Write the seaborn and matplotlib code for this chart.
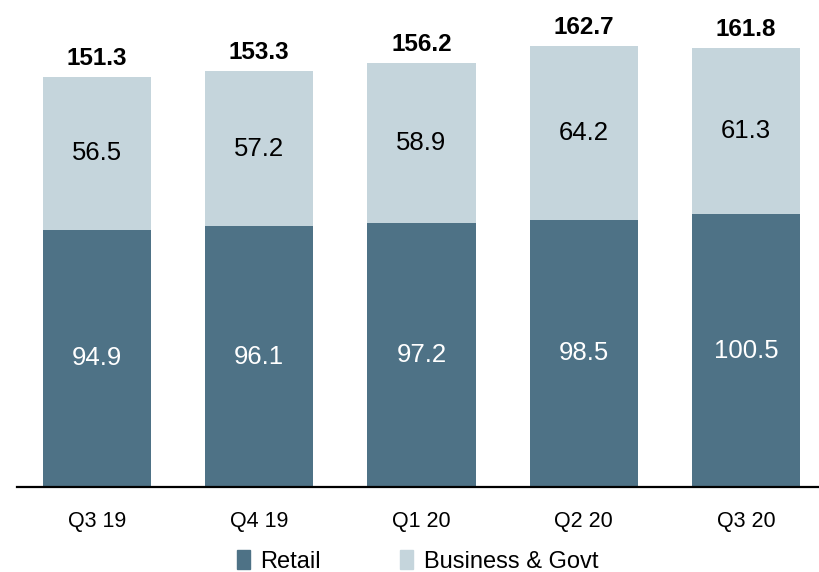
import pandas as pd
import numpy as np
import matplotlib.pyplot as plt
from matplotlib.patches import Patch
import seaborn as sns

sns.set_theme(style="white")
plt.rcParams["font.family"] = ["Liberation Sans", "DejaVu Sans"]

quarters = ["Q3 19", "Q4 19", "Q1 20", "Q2 20", "Q3 20"]
retail = [94.9, 96.1, 97.2, 98.5, 100.5]
business = [56.5, 57.2, 58.9, 64.2, 61.3]
totals = [151.3, 153.3, 156.2, 162.7, 161.8]

dark = "#4e7286"
light = "#c5d5dc"

df = pd.DataFrame({"Quarter": quarters, "Retail": retail,
                   "Business": business, "Total": totals})

fig = plt.figure(figsize=(8.19, 5.72), dpi=100)
ax = fig.add_axes([17 / 819, 85 / 572, 802 / 819, 487 / 572])

# total bar in light colour, retail drawn on top of it
sns.barplot(data=df, x="Quarter", y="Total", color=light, width=0.667,
            saturation=1, ax=ax, linewidth=0)
sns.barplot(data=df, x="Quarter", y="Retail", color=dark, width=0.667,
            saturation=1, ax=ax, linewidth=0)

for i, q in enumerate(quarters):
    ax.text(i, retail[i] / 2, f"{retail[i]:.1f}", ha="center", va="center",
            color="white", fontsize=18.5)
    ax.text(i, retail[i] + business[i] / 2, f"{business[i]:.1f}",
            ha="center", va="center", color="black", fontsize=18.5)
    ax.annotate(f"{totals[i]:.1f}", (i, totals[i]), xytext=(0, 5),
                textcoords="offset points", ha="center", va="bottom",
                fontsize=17.5, fontweight="bold", color="black")

ax.set_xlim(-0.493, 4.45)
ax.set_ylim(0, 179.5)
ax.set_xlabel("")
ax.set_ylabel("")
ax.set_yticks([])
ax.tick_params(axis="x", length=0, pad=17, labelsize=15.5, colors="black")
for s in ["top", "left", "right"]:
    ax.spines[s].set_visible(False)
ax.spines["bottom"].set_color("black")
ax.spines["bottom"].set_linewidth(1.6)

handles = [Patch(color=dark, label="Retail"),
           Patch(color=light, label="Business & Govt")]
fig.legend(handles=handles, loc="center", bbox_to_anchor=(0.51, 0.019),
           ncol=2, frameon=False, fontsize=17, handlelength=0.55,
           handleheight=0.9, handletextpad=0.45, columnspacing=3.35,
           labelcolor="black")

fig.savefig("out.png", dpi=100)
